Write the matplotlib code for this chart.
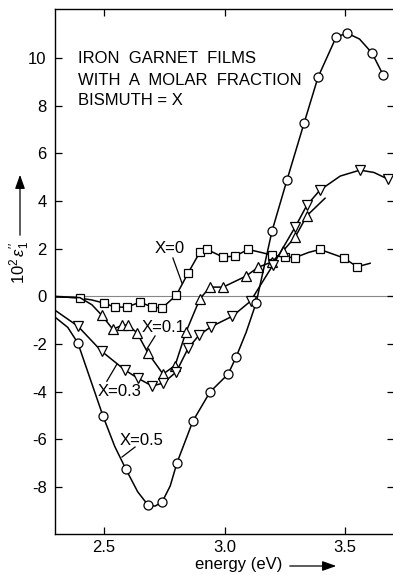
import matplotlib

matplotlib.use("Agg")
import matplotlib.pyplot as plt

FONT = ["Liberation Sans", "DejaVu Sans"]
plt.rcParams["font.family"] = FONT
plt.rcParams["mathtext.fontset"] = "custom"
plt.rcParams["mathtext.rm"] = "Liberation Sans"
plt.rcParams["mathtext.it"] = "Liberation Sans:italic"

# curve vertices, plus the indices that carry a marker
x0_e = [2.297, 2.40, 2.45, 2.50, 2.546, 2.595, 2.65, 2.70, 2.741, 2.80, 2.849,
        2.898, 2.927, 2.994, 3.044, 3.098, 3.15, 3.197, 3.25, 3.293, 3.35,
        3.396, 3.496, 3.55, 3.604]
x0_v = [0.0, -0.07, -0.15, -0.28, -0.45, -0.45, -0.24, -0.45, -0.49, 0.05, 0.98,
        1.86, 1.97, 1.65, 1.69, 1.97, 1.85, 1.73, 1.65, 1.63, 1.85,
        1.97, 1.61, 1.24, 1.39]
x0_marks = [1, 3, 4, 5, 6, 7, 8, 9, 10, 11, 12, 13, 14, 15, 17, 18, 19, 21, 22, 23]

x01_e = [2.297, 2.40, 2.45, 2.49, 2.537, 2.573, 2.60, 2.637, 2.683, 2.745, 2.795,
         2.84, 2.898, 2.94, 2.994, 3.089, 3.139, 3.197, 3.243, 3.293, 3.342, 3.417]
x01_v = [-0.02, -0.05, -0.35, -0.78, -1.38, -1.22, -1.2, -1.53, -2.38, -3.26, -2.9,
         -1.5, -0.1, 0.39, 0.39, 0.85, 1.22, 1.45, 1.91, 2.49, 3.39, 4.12]
x01_marks = list(range(3, 21))

x03_e = [2.297, 2.392, 2.49, 2.587, 2.64, 2.70, 2.745, 2.80, 2.849, 2.895, 2.945,
         3.033, 3.108, 3.20, 3.293, 3.342, 3.396, 3.48, 3.562, 3.62, 3.678]
x03_v = [-0.58, -1.25, -2.30, -3.09, -3.43, -3.76, -3.64, -3.17, -2.18, -1.62, -1.27,
         -0.83, -0.2, 1.3, 2.91, 3.83, 4.46, 5.05, 5.30, 5.2, 4.92]
x03_marks = [1, 2, 3, 4, 5, 6, 7, 8, 9, 10, 11, 12, 13, 14, 15, 16, 18, 20]

x05_e = [2.297, 2.35, 2.392, 2.496, 2.545, 2.591, 2.64, 2.683, 2.712, 2.741, 2.775,
         2.803, 2.869, 2.94, 3.015, 3.048, 3.09, 3.131, 3.197, 3.259, 3.33, 3.388,
         3.463, 3.508, 3.56, 3.612, 3.658]
x05_v = [-0.87, -1.3, -1.96, -5.02, -6.3, -7.25, -8.2, -8.76, -8.8, -8.63, -7.95,
         -6.98, -5.23, -4.01, -3.26, -2.55, -1.5, -0.28, 2.74, 4.88, 7.27, 9.2,
         10.88, 11.05, 10.8, 10.21, 9.29]
x05_marks = [2, 3, 5, 7, 9, 11, 12, 13, 14, 15, 17, 18, 19, 20, 21, 22, 23, 25, 26]

y_ticks = [-8, -6, -4, -2, 0, 2, 4, 6, 8, 10]
y_ticklabels = ["-8", "-6", "-4", "-2", "0", "2", "4", "6", "8", "10"]
x_ticks = [2.5, 3.0, 3.5]
x_ticklabels = ["2.5", "3.0", "3.5"]

W, H = 393, 575
fig = plt.figure(figsize=(W / 100, H / 100), dpi=100)
ax = fig.add_axes([55 / W, 1 - 534 / H, (394 - 55) / W, (534 - 9) / H])
ax.set_xlim(2.297, 3.703)
ax.set_ylim(-9.97, 12.06)

ax.axhline(0, color="#888888", lw=0.8, zorder=1)

series = [
    (x0_e, x0_v, x0_marks, "s", 5.5),
    (x01_e, x01_v, x01_marks, "^", 7.5),
    (x03_e, x03_v, x03_marks, "v", 7.5),
    (x05_e, x05_v, x05_marks, "o", 6.5),
]
for xs, ys, marks, mk, ms in series:
    ax.plot(xs, ys, color="black", lw=1.1, marker=mk, markevery=marks,
            ms=ms, mfc="white", mec="black", mew=0.9, zorder=3)

ax.set_xticks(x_ticks)
ax.set_xticklabels(x_ticklabels)
ax.set_yticks(y_ticks)
ax.set_yticklabels(y_ticklabels)
ax.tick_params(direction="in", length=5, width=0.9, top=True, right=True,
               labelsize=12)
ax.tick_params(axis="x", pad=4)
ax.tick_params(axis="y", pad=6)
ax.spines["right"].set_visible(False)
for s in ("left", "bottom", "top"):
    ax.spines[s].set_linewidth(1.0)

# heading
for txt, yy in [("IRON  GARNET  FILMS", 10.0), ("WITH  A  MOLAR  FRACTION", 9.08),
                ("BISMUTH = X", 8.2)]:
    ax.text(2.392, yy, txt, fontsize=12, va="center", ha="left")

# curve labels with leader lines
labels = [
    ("X=0", 2.774, 1.99, (2.786, 1.61), (2.824, 0.55)),
    ("X=0.1", 2.749, -1.29, (2.712, -1.66), (2.678, -2.21)),
    ("X=0.3", 2.566, -4.01, (2.512, -3.56), (2.554, -2.84)),
    ("X=0.5", 2.654, -6.03, (2.629, -6.32), (2.575, -6.74)),
]
for txt, tx, ty, p1, p2 in labels:
    ax.text(tx, ty, txt, fontsize=12, ha="center", va="center")
    ax.plot([p1[0], p2[0]], [p1[1], p2[1]], color="black", lw=0.9)

# axis titles with arrows
fig.text(20 / W, 1 - 262 / H, r"$10^2\,\varepsilon_1''$", rotation=90,
         fontsize=12, ha="center", va="center")
fig.add_artist(matplotlib.patches.FancyArrowPatch(
    (20 / W, 1 - 238 / H), (20 / W, 1 - 172 / H), transform=fig.transFigure,
    arrowstyle="-|>,head_length=0.7,head_width=0.25", color="black", lw=0.9,
    mutation_scale=12))
fig.text(239 / W, 1 - 565 / H, "energy (eV)", fontsize=12, ha="center",
         va="center")
fig.add_artist(matplotlib.patches.FancyArrowPatch(
    (287 / W, 1 - 566 / H), (339 / W, 1 - 566 / H), transform=fig.transFigure,
    arrowstyle="-|>,head_length=0.7,head_width=0.25", color="black", lw=0.9,
    mutation_scale=12))

fig.savefig("out.png", dpi=100)
